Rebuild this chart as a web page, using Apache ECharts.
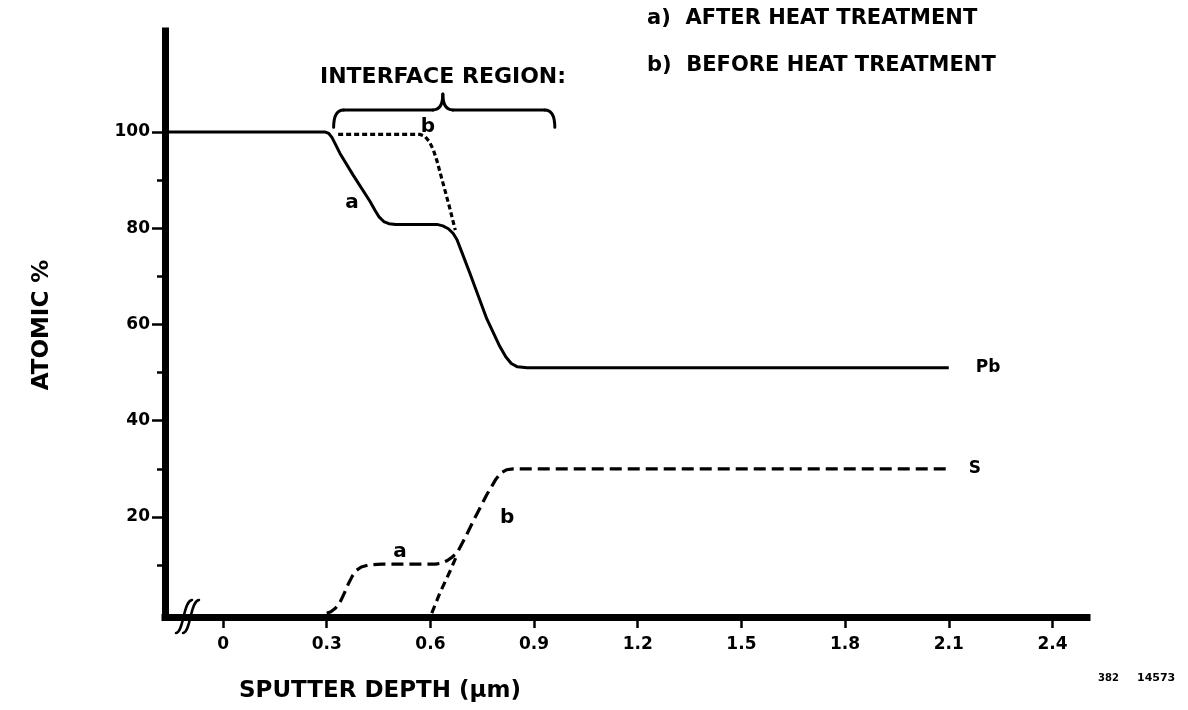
<!DOCTYPE html>
<html>
<head>
<meta charset="utf-8">
<script src="https://cdn.jsdelivr.net/npm/echarts@6/dist/echarts.min.js"></script>
<style>
  html, body { margin: 0; padding: 0; background: #fff; }
  #chart { width: 1188px; height: 710px; }
</style>
</head>
<body>
<div id="chart"></div>
<script>
// Depth profiles, [sputter depth (µm), atomic %]
const pbAfter = [
  [-0.168, 100], [0.296, 100], [0.306, 99.7], [0.315, 98.9], [0.325, 97.5],
  [0.338, 95.6], [0.376, 91.1], [0.425, 85.6], [0.440, 83.7], [0.452, 82.3],
  [0.465, 81.4], [0.480, 80.95], [0.500, 80.8], [0.619, 80.8], [0.636, 80.5],
  [0.652, 79.9], [0.666, 78.9], [0.677, 77.6], [0.690, 75.2], [0.714, 70.7],
  [0.763, 61.2], [0.801, 55.4], [0.818, 53.3], [0.834, 51.9], [0.852, 51.2],
  [0.880, 51.0], [2.1, 51.0]
];
const pbBefore = [
  [0.333, 99.5], [0.570, 99.5], [0.584, 99.1], [0.597, 98.0], [0.609, 96.2],
  [0.619, 94.0], [0.636, 89.5], [0.656, 84.2], [0.672, 79.6]
];
const sAfter = [
  [0.300, 0], [0.312, 0.3], [0.325, 1.0], [0.338, 2.2], [0.350, 4.0],
  [0.362, 6.0], [0.374, 7.7], [0.386, 8.9], [0.400, 9.6], [0.420, 10.0],
  [0.460, 10.2], [0.615, 10.2], [0.632, 10.4], [0.648, 10.9], [0.662, 11.6],
  [0.677, 12.5], [0.700, 15.6], [0.723, 19.0], [0.763, 24.6], [0.790, 27.9],
  [0.805, 29.2], [0.820, 29.8], [0.840, 30.0], [2.1, 30.0]
];
const sBefore = [
  [0.604, 0], [0.628, 4.3], [0.656, 8.6], [0.677, 12.1]
];

const xTickValues = [0, 0.3, 0.6, 0.9, 1.2, 1.5, 1.8, 2.1, 2.4];
const xTickLabels = ['0', '0.3', '0.6', '0.9', '1.2', '1.5', '1.8', '2.1', '2.4'];
const yMajorTicks = [20, 40, 60, 80, 100];
const yMinorTicks = [10, 30, 50, 70, 90];

// curve letters placed next to each profile: [depth, atomic %, letter]
const curveLetters = [
  [0.373, 85.2, 'a'], [0.593, 101.0, 'b'], [0.512, 12.7, 'a'], [0.822, 19.8, 'b']
];
// bracketed interface region: left end, right end, centre (depth)
const interfaceSpan = [0.32, 0.96, 0.636];
// brace heights: tips, bar, centre point (atomic %)
const braceLevels = [101.0, 104.6, 107.9];

const legendLines = ['a)  AFTER HEAT TREATMENT', 'b)  BEFORE HEAT TREATMENT'];
const FONT = '"DejaVu Sans", "Liberation Sans", sans-serif';
const INK = '#000';

const chart = echarts.init(document.getElementById('chart'), null, { renderer: 'canvas' });

const boldText = (size) => ({ fontFamily: FONT, fontWeight: 'bold', fontSize: size, color: INK });

chart.setOption({
  backgroundColor: '#fff',
  animation: false,
  grid: { left: 165, right: 101, top: 31, bottom: 93, outerBoundsMode: 'none', containLabel: false },
  xAxis: {
    type: 'value', min: -0.168, max: 2.5,
    axisLine: { show: true, onZero: false, lineStyle: { color: INK, width: 7, cap: 'square' } },
    axisTick: { show: true, customValues: xTickValues, length: 11, lineStyle: { color: INK, width: 2.5 } },
    axisLabel: {
      show: true, customValues: xTickValues, margin: 19, ...boldText(17),
      formatter: (v) => {
        const i = xTickValues.findIndex(t => Math.abs(t - v) < 1e-6);
        return i >= 0 ? xTickLabels[i] : '';
      }
    },
    splitLine: { show: false }
  },
  yAxis: [
    {
      type: 'value', min: -0.8, max: 121, position: 'left',
      axisLine: { show: true, onZero: false, lineStyle: { color: INK, width: 7, cap: 'square' } },
      axisTick: { show: true, customValues: yMajorTicks, length: 13, lineStyle: { color: INK, width: 2.5 } },
      axisLabel: { show: true, customValues: yMajorTicks, margin: 15, ...boldText(17) },
      splitLine: { show: false }
    },
    {
      type: 'value', min: -0.8, max: 121, position: 'left',
      axisLine: { show: false, onZero: false },
      axisTick: { show: true, customValues: yMinorTicks, length: 8, lineStyle: { color: INK, width: 2.5 } },
      axisLabel: { show: false },
      splitLine: { show: false }
    }
  ],
  series: [
    {
      name: 'Pb a', type: 'line', data: pbAfter, showSymbol: false, z: 4,
      lineStyle: { color: INK, width: 3, join: 'round' },
      endLabel: { show: true, formatter: 'Pb', distance: 27, ...boldText(17) }
    },
    {
      name: 'Pb b', type: 'line', data: pbBefore, showSymbol: false, z: 3,
      lineStyle: { color: INK, width: 3.2, type: [5, 3] }
    },
    {
      name: 'S a', type: 'line', data: sAfter, showSymbol: false, z: 3,
      lineStyle: { color: INK, width: 3.2, type: [12, 6], join: 'round' },
      endLabel: { show: true, formatter: 'S', distance: 20, ...boldText(17) }
    },
    {
      name: 'S b', type: 'line', data: sBefore, showSymbol: false, z: 3,
      lineStyle: { color: INK, width: 3.2, type: [8, 5] }
    }
  ]
});

// Annotations positioned from the chart's own scales
const px = (d, v) => chart.convertToPixel({ gridIndex: 0 }, [d, v]);
const [xL, xR, xM] = interfaceSpan;
const [vTip, vBar, vPeak] = braceLevels;
const L = px(xL, vTip), R = px(xR, vTip), M = px(xM, vPeak);
const yBar = px(xL, vBar)[1];

const strokeStyle = (w) => ({ stroke: INK, lineWidth: w, fill: null, lineCap: 'round' });
const quad = (x1, y1, cx, cy, x2, y2) => ({
  type: 'bezierCurve', silent: true,
  shape: { x1, y1, x2, y2, cpx1: cx, cpy1: cy }, style: strokeStyle(3)
});
const seg = (x1, y1, x2, y2) => ({
  type: 'line', silent: true, shape: { x1, y1, x2, y2 }, style: strokeStyle(3)
});
const braceParts = [
  quad(L[0], L[1], L[0], yBar, L[0] + 10, yBar),
  seg(L[0] + 10, yBar, M[0] - 10, yBar),
  quad(M[0] - 10, yBar, M[0], yBar, M[0], M[1]),
  quad(M[0], M[1], M[0], yBar, M[0] + 10, yBar),
  seg(M[0] + 10, yBar, R[0] - 10, yBar),
  quad(R[0] - 10, yBar, R[0], yBar, R[0], R[1])
];

// axis break mark near the origin
const origin = px(-0.168, -0.8);
const bx = origin[0] + 15, by = origin[1];
const breakStroke = (dx) => ({
  type: 'bezierCurve', silent: true, z: 10,
  shape: {
    x1: bx + dx - 4, y1: by + 16, x2: bx + dx + 12, y2: by - 17,
    cpx1: bx + dx + 4, cpy1: by + 15, cpx2: bx + dx + 3, cpy2: by - 16
  },
  style: strokeStyle(2.5)
});

const txt = (x, y, text, size, extra) => ({
  type: 'text', x, y, silent: true, z: 10,
  style: Object.assign({
    text, fill: INK, fontFamily: FONT, fontWeight: 'bold', fontSize: size,
    align: 'left', verticalAlign: 'middle'
  }, extra || {})
});

const letterTexts = curveLetters.map(([d, v, s]) => {
  const p = px(d, v);
  return txt(p[0], p[1], s, 20, { align: 'center' });
});

chart.setOption({
  graphic: [
    ...braceParts,
    breakStroke(0),
    breakStroke(7),
    ...letterTexts,
    txt(647, 19, legendLines[0], 21),
    txt(647, 66, legendLines[1], 21),
    txt(320, 77, 'INTERFACE REGION:', 22),
    txt(380, 691, 'SPUTTER DEPTH (\u03bcm)', 23, { align: 'center' }),
    Object.assign(txt(42, 325, 'ATOMIC %', 23, { align: 'center' }), { rotation: Math.PI / 2 }),
    txt(1098, 678, '382', 10),
    txt(1137, 678, '14573', 11)
  ]
});
</script>
</body>
</html>
